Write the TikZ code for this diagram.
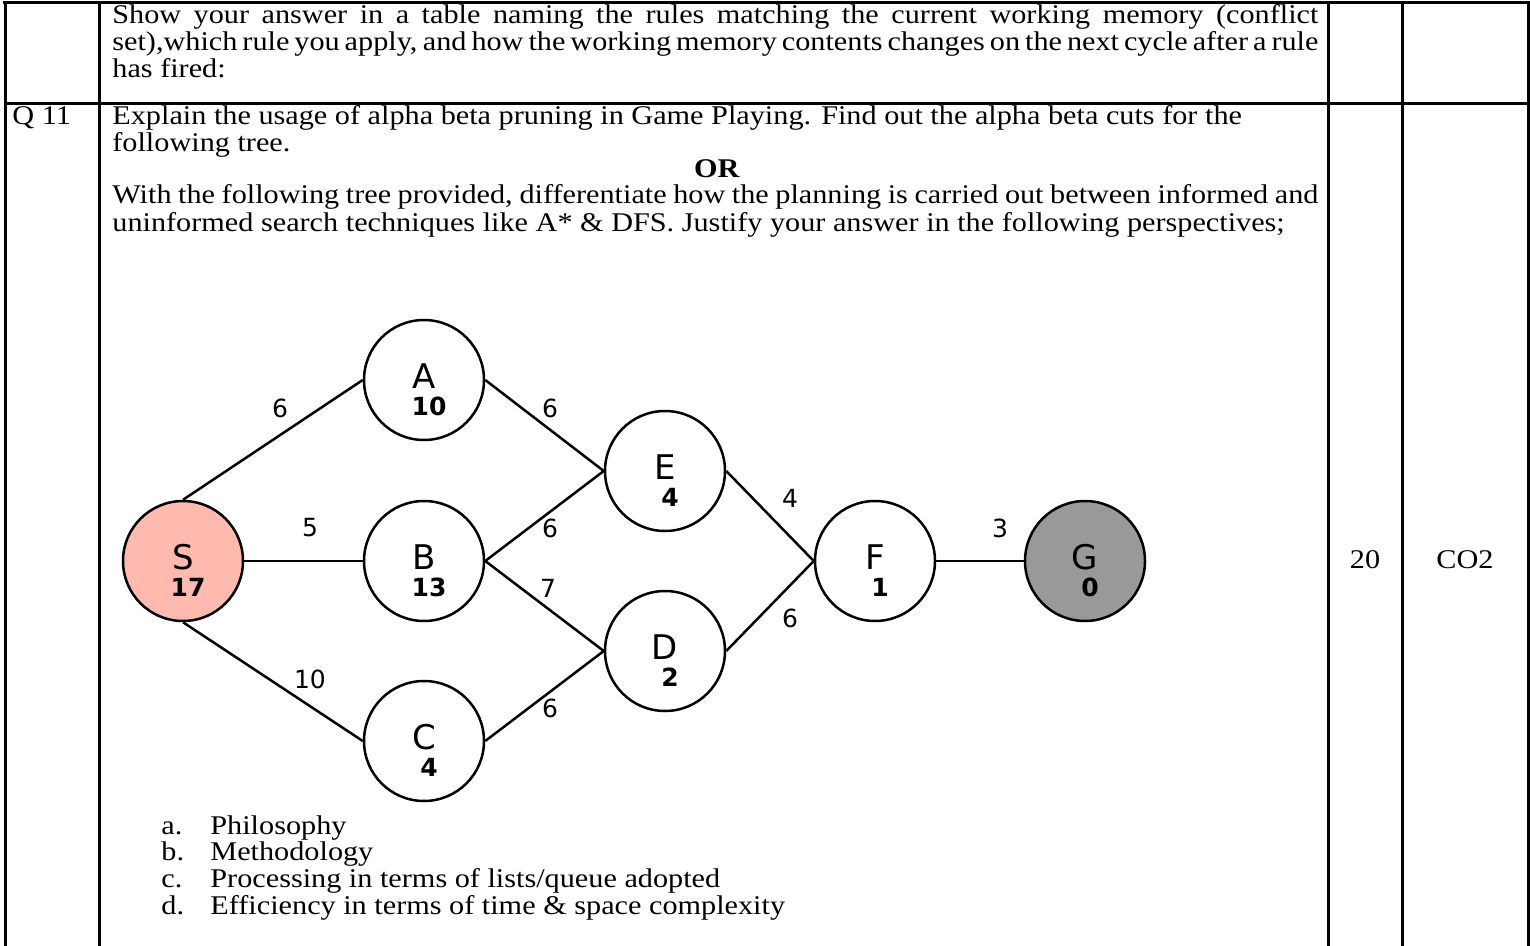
\documentclass[tikz,border=0pt]{standalone}
\usepackage{fontspec}
\setmainfont{Liberation Serif}[FakeStretch=1.12]
\newfontfamily\dvs{DejaVu Sans}
\definecolor{startfill}{RGB}{255,186,176}
\definecolor{goalfill}{RGB}{153,153,153}
\tikzset{
  tbl/.style={line width=1.5pt, line cap=rect},
  gnode/.style={circle, draw, line width=1.25pt, minimum size=60pt, inner sep=0pt},
  glet/.style={inner sep=0pt, font=\dvs\fontsize{17}{17}\selectfont},
  gnum/.style={inner sep=0pt, font=\dvs\bfseries\fontsize{12.5}{12.5}\selectfont},
  elab/.style={inner sep=0pt, font=\dvs\fontsize{12.5}{12.5}\selectfont},
  edge/.style={line width=1.25pt},
  txt/.style={inner sep=0pt, anchor=base west, font=\fontsize{13.5}{13.4}\selectfont},
}
\newcommand{\jl}[1]{\makebox[603pt][s]{#1}}
\newcommand{\jt}[1]{\makebox[603pt][s]{\spaceskip=0.12em plus 1em minus 0.05em #1}}
\begin{document}
\begin{tikzpicture}[x=0.5pt,y=-0.5pt]
\useasboundingbox (0,0) rectangle (1530,946);
% table
\draw[tbl] (4,3) -- (1528,3);
\draw[tbl] (5,104) -- (1528,104);
\draw[tbl] (5,3) -- (5,946);
\draw[tbl] (99,3) -- (99,946);
\draw[tbl] (1328,3) -- (1328,946);
\draw[tbl] (1402,3) -- (1402,946);
\draw[tbl] (1528,3) -- (1528,946);
% first row text
\node[txt] (t1) at (112,24) {\jl{Show your answer in a table naming the rules matching the current working memory (conflict}};
\node[txt] (t2) at (112,51) {\jt{set),which rule you apply, and how the working memory contents changes on the next cycle after a rule}};
\node[txt] (t3) at (112,78) {has fired:};
% second row
\node[txt] (q) at (12,125) {Q 11};
\node[txt] (u1) at (112,125) {Explain the usage of alpha beta pruning in Game Playing. Find out the alpha beta cuts for the};
\node[txt] (u2) at (112,152) {following tree.};
\node[txt, anchor=base] (or) at (717,178) {\textbf{OR}};
\node[txt] (u3) at (112,204) {\jl{With the following tree provided, differentiate how the planning is carried out between informed and}};
\node[txt] (u4) at (112,232) {uninformed search techniques like A* \& DFS. Justify your answer in the following perspectives;};
\node[txt, anchor=base] (m) at (1365,568) {20};
\node[txt, anchor=base] (co) at (1465,568) {CO2};
% list
\node[txt] (la) at (161,834) {a.};
\node[txt] (lat) at (210,834) {Philosophy};
\node[txt] (lb) at (161,860) {b.};
\node[txt] (lbt) at (210,860) {Methodology};
\node[txt] (lc) at (161,887) {c.};
\node[txt] (lct) at (210,887) {Processing in terms of lists/queue adopted};
\node[txt] (ld) at (161,914) {d.};
\node[txt] (ldt) at (210,914) {Efficiency in terms of time \& space complexity};
% graph nodes
\newcommand{\gn}[6]{%
  \node[gnode, fill=#6] (#1) at (#2,#3) {};
  \node[glet] (#1-l) at (#2,#3-3.5) {#4};
  \node[gnum] (#1-h) at (#2+5,#3+26.5) {#5};
}
\gn{S}{183}{561}{S}{17}{startfill}
\gn{A}{424}{380}{A}{10}{white}
\gn{B}{424}{561}{B}{13}{white}
\gn{C}{424}{741}{C}{4}{white}
\gn{E}{665}{471}{E}{4}{white}
\gn{D}{665}{651}{D}{2}{white}
\gn{F}{875}{561}{F}{1}{white}
\gn{G}{1085}{561}{G}{0}{goalfill}
% edges
\draw[edge] (S.north) -- (A.west);
\draw[edge] (S.east) -- (B.west);
\draw[edge] (S.south) -- (C.west);
\draw[edge] (A.east) -- (E.west);
\draw[edge] (B.east) -- (E.west);
\draw[edge] (B.east) -- (D.west);
\draw[edge] (C.east) -- (D.west);
\draw[edge] (E.east) -- (F.west);
\draw[edge] (D.east) -- (F.west);
\draw[edge] (F.east) -- (G.west);
% edge labels
\node[elab] (w1) at (280,408) {6};
\node[elab] (w2) at (310,528) {5};
\node[elab] (w3) at (310,679) {10};
\node[elab] (w4) at (550,408) {6};
\node[elab] (w5) at (550,528) {6};
\node[elab] (w6) at (548,588) {7};
\node[elab] (w7) at (550,708) {6};
\node[elab] (w8) at (790,498) {4};
\node[elab] (w9) at (790,618) {6};
\node[elab] (w10) at (1000,528) {3};
\end{tikzpicture}
\end{document}
